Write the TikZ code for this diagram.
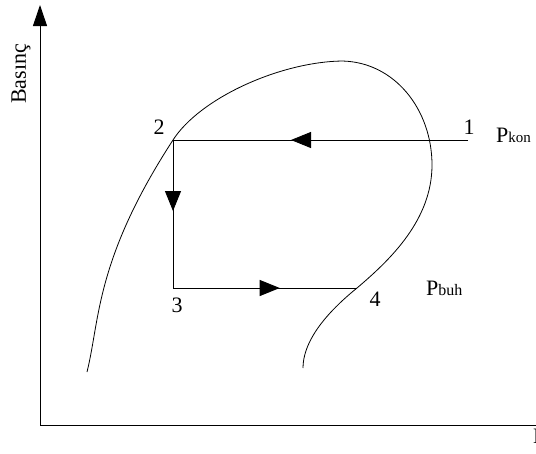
\documentclass[tikz,border=0pt]{standalone}
\usepackage{fontspec}
\setmainfont{Liberation Serif}
\usetikzlibrary{arrows.meta,decorations.markings}
\begin{document}
\begin{tikzpicture}[x=1pt,y=-1pt,
  lbl/.style={font=\fontsize{22}{24}\selectfont, inner sep=0pt},
  cyc/.style={line width=0.9pt},
  midarrow/.style={decoration={markings, mark=at position #1 with {\arrow{Triangle[length=20pt,width=16pt]}}}, postaction={decorate}},
  axis/.style={line width=1pt}]
\useasboundingbox (0,0) rectangle (536,453);
% axes
\coordinate (O) at (40,425);
\coordinate (Ytop) at (40,5);
\coordinate (Xend) at (545,425);
\draw[axis,-{Triangle[length=21pt,width=14pt]}] (O) -- (Ytop);
\draw[axis] (O) -- (Xend);
\node[lbl, rotate=90] (yl) at (21,74) {Basınç};
\node[lbl, anchor=base west] (xl) at (533,443) {Entalpi};
% cycle points
\coordinate (p1) at (468,140);
\coordinate (p2) at (173,140);
\coordinate (p3) at (173,288);
\coordinate (p4) at (357,288);
% saturation dome
\draw[line width=0.8pt] (87,372) .. controls (100,320) and (95,260) .. (p2)
  .. controls (200,98) and (280,62) .. (342,61)
  .. controls (395,62) and (432,110) .. (432,165)
  .. controls (432,220) and (390,260) .. (p4)
  .. controls (320,318) and (303,345) .. (303,368);
\draw[cyc, midarrow=0.6] (p1) -- (p2);
\draw[cyc, midarrow=0.48] (p2) -- (p3);
\draw[cyc, midarrow=0.58] (p3) -- (p4);
% labels
\node[lbl] (l1) at (469,127) {1};
\node[lbl] (l2) at (159,127) {2};
\node[lbl] (l3) at (177,305) {3};
\node[lbl] (l4) at (375,299) {4};
\node[lbl, anchor=base west] (pk) at (496,142) {P\fontsize{15}{16}\selectfont kon};
\node[lbl, anchor=base west] (pb) at (426,295) {P\fontsize{16}{17}\selectfont buh};
\end{tikzpicture}
\end{document}
